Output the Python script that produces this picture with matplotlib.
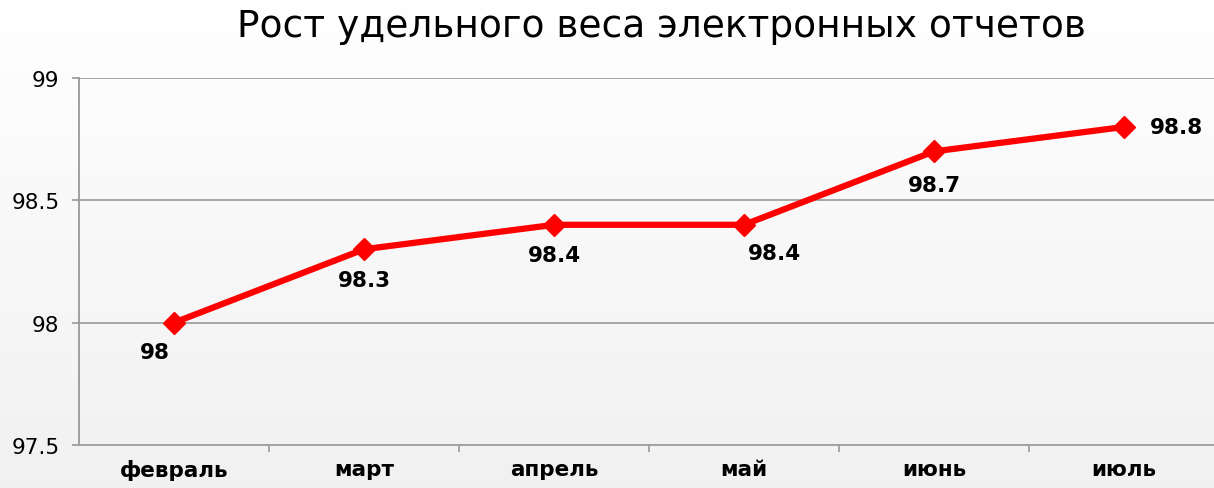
import numpy as np
from matplotlib import pyplot as plt

months = ['февраль', 'март', 'апрель', 'май', 'июнь', 'июль']
values = [98.0, 98.3, 98.4, 98.4, 98.7, 98.8]
value_labels = ['98', '98.3', '98.4', '98.4', '98.7', '98.8']
y_ticks = [97.5, 98.0, 98.5, 99.0]
y_tick_labels = ['97.5', '98', '98.5', '99']

# label offsets in points (dx, dy)
label_offsets = [(-14, -21), (0, -22), (0, -22), (22, -20), (0, -24), (38, 0)]

fig = plt.figure(figsize=(12.14, 4.89), dpi=100)
fig.patch.set_facecolor('white')

# soft grey background gradient (white at top, light grey at bottom)
bg = fig.add_axes([0, 0, 1, 1], zorder=-10)
t = np.linspace(0, 1, 256).reshape(-1, 1, 1)
top = np.array([1.0, 1.0, 1.0])
bottom = np.array([0.945, 0.945, 0.945])
grad = top * (1 - t) + bottom * t
bg.imshow(grad, aspect='auto', extent=[0, 1, 0, 1])
bg.axis('off')

ax = fig.add_axes([0.0651, 0.088, 0.939, 0.7504])
ax.patch.set_alpha(0)
x = np.arange(len(months))
ax.plot(x, values, color='#ff0000', lw=4.5, marker='D', ms=11,
        solid_joinstyle='round', zorder=3)

for xi, v, lab, off in zip(x, values, value_labels, label_offsets):
    ax.annotate(lab, (xi, v), xytext=off, textcoords='offset points',
                ha='center', va='center', fontsize=15.5, fontweight='bold',
                color='black')

ax.set_xlim(-0.5, len(months) - 0.5)
ax.set_ylim(97.5, 99.0)
ax.set_yticks(y_ticks)
ax.set_yticklabels(y_tick_labels, fontsize=15.5)
ax.set_xticks(x)
ax.set_xticklabels(months, fontsize=15.5, fontweight='bold')
ax.set_xticks(np.arange(len(months)) + 0.5, minor=True)
ax.tick_params(axis='x', which='major', length=0, pad=10)
ax.tick_params(axis='x', which='minor', length=5, color='#999999', width=1.2)
ax.tick_params(axis='y', length=5, color='#999999', width=1.2, pad=9)
ax.yaxis.grid(True, color='#a0a0a0', lw=1.3)
ax.set_axisbelow(True)
for side in ['top', 'right']:
    ax.spines[side].set_visible(False)
ax.spines['left'].set_color('#999999')
ax.spines['left'].set_linewidth(1.3)
ax.spines['bottom'].set_color('#a0a0a0')
ax.spines['bottom'].set_linewidth(1.3)

fig.text(0.545, 0.945, 'Рост удельного веса электронных отчетов', ha='center',
         va='center', fontsize=27)

fig.savefig('out.png', dpi=100)
